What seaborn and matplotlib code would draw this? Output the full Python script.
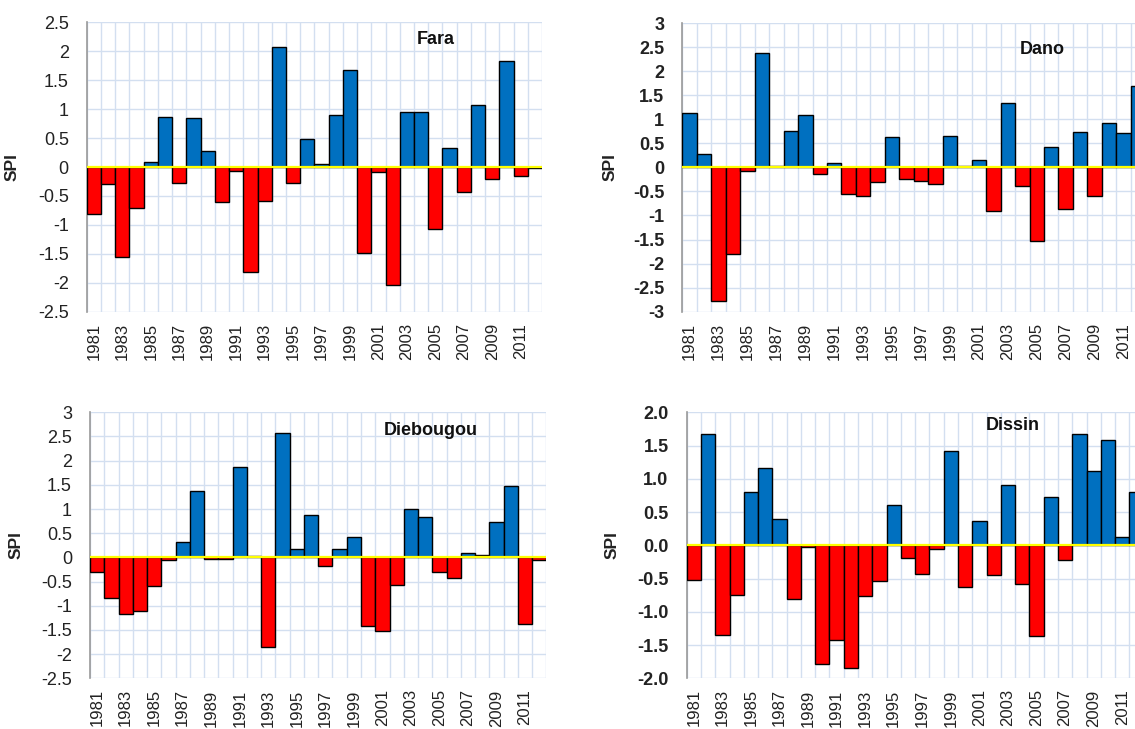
import numpy as np
import pandas as pd
import matplotlib
matplotlib.use("Agg")
import matplotlib.pyplot as plt
from matplotlib.ticker import FixedLocator, FuncFormatter
import seaborn as sns

# SPI values per station, 1981-2012
years = list(range(1981, 2013))

fara = [-0.82, -0.30, -1.56, -0.70, 0.08, 0.86, -0.27, 0.84, 0.28, -0.60,
        -0.07, -1.82, -0.58, 2.08, -0.27, 0.48, 0.06, 0.90, 1.68, -1.49,
        -0.09, -2.04, 0.95, 0.95, -1.07, 0.33, -0.43, 1.08, -0.21, 1.84,
        -0.16, -0.02]

dano = [1.13, 0.28, -2.78, -1.79, -0.08, 2.37, 0.02, 0.76, 1.08, -0.14,
        0.10, -0.56, -0.59, -0.30, 0.63, -0.24, -0.29, -0.35, 0.66, 0.02,
        0.15, -0.91, 1.33, -0.38, -1.53, 0.42, -0.86, 0.74, -0.59, 0.92,
        0.71, 1.70]

diebougou = [-0.31, -0.84, -1.18, -1.10, -0.60, -0.05, 0.31, 1.37, -0.03, -0.03,
             1.87, 0.03, -1.85, 2.58, 0.18, 0.87, -0.18, 0.18, 0.42, -1.42,
             -1.53, -0.58, 1.00, 0.84, -0.31, -0.42, 0.10, 0.05, 0.74, 1.47,
             -1.37, -0.06]

dissin = [-0.52, 1.67, -1.35, -0.75, 0.80, 1.17, 0.40, -0.81, -0.02, -1.79,
          -1.43, -1.85, -0.77, -0.54, 0.61, -0.19, -0.43, -0.06, 1.42, -0.62,
          0.36, -0.45, 0.90, -0.58, -1.37, 0.73, -0.22, 1.67, 1.11, 1.59,
          0.13, 0.80]

BLUE = "#0070c0"
RED = "#ff0000"
GRID = "#d3dff0"

# name, values, y range, tick format, bold ticks, axes rect, title pos, ylabel x
panels = [
    ("Fara", fara, (-2.5, 2.5), "{:g}", False,
     [0.0765, 0.5724, 0.4010, 0.3970], (0.766, 0.942), -0.148),
    ("Dano", dano, (-3.0, 3.0), "{:g}", True,
     [0.6012, 0.5724, 0.4078, 0.3960], (0.777, 0.910), -0.141),
    ("Diebougou", diebougou, (-2.5, 3.0), "{:g}", False,
     [0.0793, 0.0696, 0.4021, 0.3648], (0.747, 0.931), -0.145),
    ("Dissin", dissin, (-2.0, 2.0), "{:.1f}", True,
     [0.6050, 0.0696, 0.4026, 0.3648], (0.713, 0.952), -0.146),
]


def draw_panel(fig, name, values, ylim, fmt, bold, rect, title_xy, ylab_x):
    ax = fig.add_axes(rect)
    df = pd.DataFrame({"year": [str(y) for y in years], "spi": values})
    df["sign"] = np.where(df["spi"] >= 0, "pos", "neg")

    sns.barplot(data=df, x="year", y="spi", hue="sign",
                palette={"pos": BLUE, "neg": RED}, order=df["year"],
                dodge=False, width=1.0, saturation=1, edgecolor="black",
                linewidth=1.0, legend=False, ax=ax, zorder=3)

    ax.axhline(0, color="#ffff00", lw=1.6, zorder=4)

    n = len(years)
    ax.set_xlim(-0.5, n - 0.5)
    ax.set_ylim(*ylim)

    # gridlines: horizontal at each 0.5, vertical between categories
    yt = np.arange(ylim[0], ylim[1] + 0.01, 0.5)
    ax.yaxis.set_major_locator(FixedLocator(yt))
    ax.yaxis.set_major_formatter(FuncFormatter(lambda v, p: fmt.format(v + 0.0)))
    ax.xaxis.set_minor_locator(FixedLocator(np.arange(-0.5, n, 1.0)))
    ax.set_xticks(range(0, n, 2))
    ax.set_xticklabels([str(y) for y in years[::2]], rotation=90)
    ax.grid(axis="y", which="major", color=GRID, lw=1.0, zorder=0)
    ax.grid(axis="x", which="minor", color=GRID, lw=1.0, zorder=0)
    ax.set_axisbelow(True)

    ax.tick_params(axis="x", which="both", length=0, pad=8, labelsize=12,
                   labelcolor="#222222")
    ax.tick_params(axis="y", length=5, width=1, color="#999999", pad=8,
                   labelsize=13, labelcolor="#222222")
    if bold:
        for t in ax.get_yticklabels():
            t.set_fontweight("bold")

    for s in ["top", "right", "bottom"]:
        ax.spines[s].set_visible(False)
    ax.spines["left"].set_color("#999999")
    ax.spines["left"].set_linewidth(1.2)

    ax.set_xlabel("")
    ax.set_ylabel("SPI", fontsize=12.5, fontweight="bold", color="#222222")
    ax.yaxis.set_label_coords(ylab_x, 0.5)
    ax.text(title_xy[0], title_xy[1], name, transform=ax.transAxes,
            ha="center", va="center", fontsize=13, fontweight="bold",
            color="#111111")
    return ax


def main():
    sns.set_theme(style="white")
    plt.rcParams["font.family"] = ["Liberation Sans", "DejaVu Sans"]
    plt.rcParams["axes.unicode_minus"] = False

    fig = plt.figure(figsize=(11.35, 7.29), dpi=100)
    for p in panels:
        draw_panel(fig, *p)
    fig.savefig("out.png", dpi=100, facecolor="white")


if __name__ == "__main__":
    main()
